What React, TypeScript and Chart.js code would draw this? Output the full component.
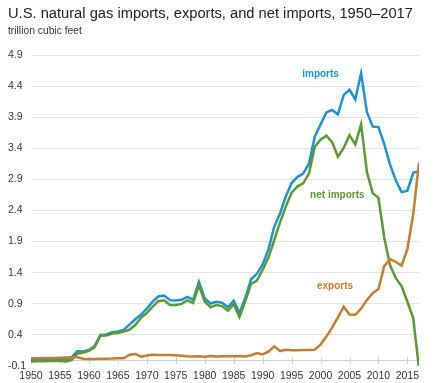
import React, { useEffect, useRef } from "react";
import { Chart, registerables } from "chart.js";

Chart.register(...registerables);

// ---------- data (trillion cubic feet) ----------
const years = [
  1950, 1951, 1952, 1953, 1954, 1955, 1956, 1957, 1958, 1959,
  1960, 1961, 1962, 1963, 1964, 1965, 1966, 1967, 1968, 1969,
  1970, 1971, 1972, 1973, 1974, 1975, 1976, 1977, 1978, 1979,
  1980, 1981, 1982, 1983, 1984, 1985, 1986, 1987, 1988, 1989,
  1990, 1991, 1992, 1993, 1994, 1995, 1996, 1997, 1998, 1999,
  2000, 2001, 2002, 2003, 2004, 2005, 2006, 2007, 2008, 2009,
  2010, 2011, 2012, 2013, 2014, 2015, 2016, 2017,
];

const importsValues = [
  0.000, 0.002, 0.007, 0.009, 0.006, 0.011, 0.010, 0.038, 0.136, 0.134,
  0.156, 0.219, 0.402, 0.406, 0.443, 0.456, 0.480, 0.564, 0.652, 0.727,
  0.821, 0.935, 1.019, 1.033, 0.959, 0.953, 0.964, 1.011, 0.966, 1.253,
  0.985, 0.904, 0.933, 0.918, 0.843, 0.950, 0.750, 0.993, 1.294, 1.382,
  1.532, 1.773, 2.138, 2.350, 2.624, 2.841, 2.937, 2.994, 3.152, 3.586,
  3.782, 3.977, 4.015, 3.944, 4.259, 4.341, 4.186, 4.608, 3.984, 3.751,
  3.741, 3.469, 3.138, 2.883, 2.695, 2.718, 3.006, 3.033,
];

const exportsValues = [
  0.026, 0.024, 0.029, 0.028, 0.027, 0.031, 0.037, 0.042, 0.039, 0.018,
  0.011, 0.011, 0.016, 0.017, 0.020, 0.026, 0.025, 0.082, 0.094, 0.051,
  0.070, 0.080, 0.078, 0.077, 0.077, 0.073, 0.065, 0.056, 0.053, 0.056,
  0.049, 0.059, 0.052, 0.055, 0.055, 0.055, 0.061, 0.054, 0.074, 0.107,
  0.086, 0.129, 0.216, 0.140, 0.162, 0.154, 0.153, 0.157, 0.159, 0.163,
  0.244, 0.373, 0.516, 0.680, 0.854, 0.729, 0.724, 0.822, 0.963, 1.072,
  1.137, 1.506, 1.619, 1.572, 1.514, 1.784, 2.335, 3.171,
];

const netImportsValues = [
  -0.026, -0.022, -0.022, -0.019, -0.021, -0.020, -0.027, -0.004, 0.097, 0.116,
  0.145, 0.208, 0.386, 0.389, 0.423, 0.430, 0.455, 0.482, 0.558, 0.676,
  0.751, 0.855, 0.941, 0.956, 0.882, 0.880, 0.899, 0.955, 0.913, 1.197,
  0.936, 0.845, 0.881, 0.863, 0.788, 0.895, 0.689, 0.939, 1.220, 1.275,
  1.446, 1.644, 1.922, 2.210, 2.462, 2.687, 2.784, 2.837, 2.993, 3.423,
  3.538, 3.604, 3.499, 3.264, 3.405, 3.612, 3.462, 3.786, 3.021, 2.679,
  2.604, 1.963, 1.519, 1.311, 1.181, 0.934, 0.671, -0.138,
];

const xTickValues = [1950, 1955, 1960, 1965, 1970, 1975, 1980, 1985, 1990, 1995, 2000, 2005, 2010, 2015];
const yTickValues = [-0.1, 0.4, 0.9, 1.4, 1.9, 2.4, 2.9, 3.4, 3.9, 4.4, 4.9];

const titleText = "U.S. natural gas imports, exports, and net imports, 1950\u20132017";
const subtitleText = "trillion cubic feet";

// series labels placed in data coordinates
const seriesLabelTexts = ["imports", "net imports", "exports"];
const seriesLabelYears = [2000, 2002.9, 2002.5];
const seriesLabelValues = [4.59, 2.64, 1.18];

const BLUE = "#1b93d5";
const GREEN = "#5b9a33";
const ORANGE = "#c97c2e";
const seriesLabelColors = [BLUE, GREEN, ORANGE];

const FONT = "'Liberation Sans', Arial, Helvetica, sans-serif";

function toPoints(vals: number[]) {
  return vals.map((v, i) => ({ x: years[i], y: v }));
}

const decorPlugin = {
  id: "decor",
  beforeDatasetsDraw(chart: any) {
    const { ctx, chartArea, scales } = chart;
    const y0 = scales.y.getPixelForValue(0);
    ctx.save();
    ctx.strokeStyle = "#cfcfcf";
    ctx.lineWidth = 1;
    ctx.beginPath();
    ctx.moveTo(chartArea.left, Math.round(y0) + 0.5);
    ctx.lineTo(chartArea.right, Math.round(y0) + 0.5);
    for (const t of xTickValues) {
      const x = Math.round(scales.x.getPixelForValue(t)) + 0.5;
      ctx.moveTo(x, Math.round(y0) - 3);
      ctx.lineTo(x, Math.round(y0) + 4);
    }
    ctx.stroke();
    ctx.restore();
  },
  afterDraw(chart: any) {
    const { ctx, scales } = chart;
    ctx.save();
    ctx.textAlign = "left";
    ctx.textBaseline = "alphabetic";
    ctx.fillStyle = "#222";
    ctx.font = `14.7px ${FONT}`;
    ctx.fillText(titleText, 8, 18);
    ctx.fillStyle = "#333";
    ctx.font = `10.3px ${FONT}`;
    ctx.fillText(subtitleText, 8, 34);

    ctx.font = `bold 10px ${FONT}`;
    ctx.textAlign = "center";
    ctx.textBaseline = "middle";
    seriesLabelTexts.forEach((t, i) => {
      ctx.fillStyle = seriesLabelColors[i];
      ctx.fillText(
        t,
        scales.x.getPixelForValue(seriesLabelYears[i]),
        scales.y.getPixelForValue(seriesLabelValues[i])
      );
    });
    ctx.restore();
  },
};

export default function App() {
  const canvasRef = useRef<HTMLCanvasElement | null>(null);

  useEffect(() => {
    document.body.style.margin = "0";
    document.body.style.overflow = "hidden";
    const canvas = canvasRef.current;
    if (!canvas) return;
    const chart = new Chart(canvas, {
      type: "line",
      data: {
        datasets: [
          {
            label: "exports",
            data: toPoints(exportsValues),
            borderColor: ORANGE,
            borderWidth: 2.5,
            pointRadius: 0,
            tension: 0,
          },
          {
            label: "net imports",
            data: toPoints(netImportsValues),
            borderColor: GREEN,
            borderWidth: 2.5,
            pointRadius: 0,
            tension: 0,
          },
          {
            label: "imports",
            data: toPoints(importsValues),
            borderColor: BLUE,
            borderWidth: 2.5,
            pointRadius: 0,
            tension: 0,
          },
        ],
      },
      options: {
        animation: false,
        responsive: false,
        events: [],
        layout: { padding: { top: 55, left: 8, right: 20, bottom: 0 } },
        plugins: {
          legend: { display: false },
          title: { display: false },
          tooltip: { enabled: false },
        },
        scales: {
          x: {
            type: "linear",
            min: 1950,
            max: 2017,
            afterBuildTicks: (scale: any) => {
              scale.ticks = xTickValues.map((v) => ({ value: v }));
            },
            afterFit: (scale: any) => {
              scale.height = 17;
            },
            grid: { display: false, drawTicks: false },
            border: { display: false },
            ticks: {
              padding: 4,
              maxRotation: 0,
              autoSkip: false,
              color: "#333",
              font: { family: FONT, size: 10.5 },
              callback: (v: any) => String(v),
            },
          },
          y: {
            type: "linear",
            min: -0.1,
            max: 4.9,
            afterBuildTicks: (scale: any) => {
              scale.ticks = yTickValues.map((v) => ({ value: v }));
            },
            afterFit: (scale: any) => {
              scale.width = 23;
            },
            grid: {
              drawTicks: false,
              color: (c: any) => (c.tick && c.tick.value < 0 ? "rgba(0,0,0,0)" : "#e3e3e3"),
              lineWidth: 1,
            },
            border: { display: false },
            ticks: {
              crossAlign: "far",
              color: "#333",
              font: { family: FONT, size: 10.5 },
              callback: (v: any) => Number(v).toFixed(1),
            },
          },
        },
      },
      plugins: [decorPlugin],
    } as any);
    return () => chart.destroy();
  }, []);

  return (
    <div style={{ width: 439, height: 383, background: "#fff" }}>
      <canvas ref={canvasRef} width={439} height={383} style={{ display: "block" }} />
    </div>
  );
}
